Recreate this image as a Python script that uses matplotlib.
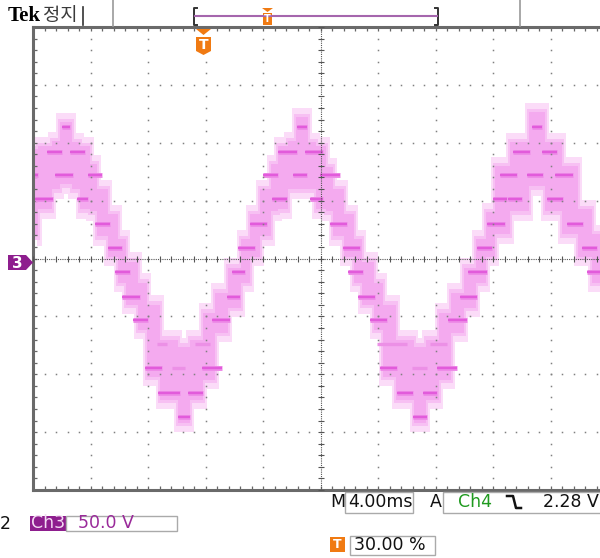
import numpy as np
import matplotlib
matplotlib.use("Agg")
import matplotlib.pyplot as plt
from matplotlib.patches import Polygon, Rectangle

# ---------------- data ----------------
time_per_div_ms = 4.0          # M 4.00ms
volts_per_div = 50.0           # Ch3 50.0 V
n_xdiv, n_ydiv = 10, 8

# pink persistence band: step boundaries (ms) and upper / lower edge (V)
band_t = [0, 0.35, 1.32, 1.88, 2.71, 3.27, 3.97, 4.45, 5.22, 5.91, 6.47, 7.30,
          7.93, 8.83, 10.09, 10.92, 11.83, 12.66, 13.57, 14.47, 15.10, 15.79,
          16.56, 17.04, 17.74, 18.30, 19.13, 19.69, 20.38, 20.87, 21.63, 22.33,
          22.89, 23.72, 24.35, 25.25, 26.50, 27.34, 28.24, 29.08, 29.98, 30.82,
          31.51, 32.14, 33.18, 34.50, 35.62, 36.80, 37.91, 38.89, 40.0]
band_hi = [94.5, 97.1, 101.4, 117.9, 100.5, 97.1, 81.5, 59.8, 38.1, 16.5, -2.6,
           -20.8, -39.9, -70.2, -76.3, -70.2, -46.8, -29.5, -7.8, 16.5, 38.1,
           59.8, 81.5, 97.1, 101.4, 122.2, 100.5, 97.1, 78.9, 59.8, 38.1, 16.5,
           -2.6, -20.8, -39.9, -70.2, -76.3, -70.2, -46.8, -29.5, -7.8, 16.5,
           39.9, 79.7, 100.5, 126.5, 100.5, 79.7, 42.5, 20.8]
band_lo = [19.1, 42.5, 59.8, 64.1, 59.8, 42.5, 40.7, 19.1, 1.7, -20.8, -39.9,
           -61.5, -102.3, -122.2, -142.1, -122.2, -104.9, -64.1, -42.5, -20.8,
           1.7, 19.1, 40.7, 42.5, 59.8, 59.8, 59.8, 42.5, 40.7, 19.1, 1.7,
           -20.8, -39.9, -61.5, -102.3, -122.2, -142.1, -122.2, -104.9, -64.1,
           -42.5, -20.8, 1.7, 20.8, 40.7, 62.4, 40.7, 20.8, 1.7, -20.8]

# bright dwell levels of the staircase (start ms, end ms, level V)
dash_t0 = [0.0, 0.14, 0.97, 1.53, 2.02, 2.57, 3.06, 3.83, 4.31, 5.22, 5.70, 6.19,
           6.96, 7.79, 8.70, 10.09, 10.78, 11.76, 12.45, 13.50, 13.84, 14.26,
           15.10, 16.00, 16.63, 17.04, 18.09, 18.37, 18.92, 19.27, 19.97, 20.66,
           21.57, 21.91, 22.61, 23.44, 24.14, 25.32, 26.43, 27.13, 28.10, 28.87,
           29.70, 30.26, 30.89, 31.58, 32.00, 32.49, 33.04, 33.39, 34.37, 34.71,
           35.41, 35.76, 36.31, 37.15, 38.19, 38.54]
dash_t1 = [0.35, 1.39, 2.02, 2.78, 2.57, 3.62, 3.83, 4.80, 5.36, 6.19, 6.75, 7.44,
           8.00, 8.97, 10.23, 10.92, 11.83, 13.15, 13.70, 14.40, 14.75, 15.44,
           16.28, 17.04, 17.67, 18.37, 19.06, 19.06, 20.17, 20.17, 21.36, 21.84,
           22.75, 22.96, 23.79, 24.63, 25.32, 26.43, 27.41, 28.10, 29.50, 30.19,
           30.89, 31.58, 31.93, 32.83, 32.97, 33.67, 34.02, 34.57, 35.48, 35.41,
           36.45, 36.87, 37.57, 38.26, 39.23, 40.0]
dash_v = [72, 51, 92, 72, 114, 92, 51, 72, 30, 9, -12, -33,
          -53, -95, -116, -137, -116, -95, -53, -33, -12, 9,
          30, 72, 51, 92, 72, 114, 92, 51, 72, 30,
          9, -12, -33, -53, -95, -116, -137, -116, -95, -53,
          -33, -12, 9, 30, 51, 72, 51, 92, 72, 114,
          92, 51, 72, 30, 9, -12]

# fainter dwell levels
faint_t0 = [8.63, 9.67, 11.27, 23.93, 26.37, 27.62]
faint_t1 = [9.32, 10.57, 12.31, 26.02, 27.41, 28.80]
faint_v = [-74, -95, -74, -74, -95, -74]

# ---------------- figure ----------------
W, H = 600, 558
fig = plt.figure(figsize=(W / 100, H / 100), dpi=100)
fig.patch.set_facecolor("white")

ax = fig.add_axes([33 / W, 68 / H, 575 / W, 463 / H])
xmax = n_xdiv * time_per_div_ms
ymax = n_ydiv / 2 * volts_per_div
ax.set_xlim(0, xmax)
ax.set_ylim(-ymax, ymax)
ax.set_facecolor("white")

# trace band (soft halo + core)
bt = np.array(band_t)
hi = np.append(band_hi, band_hi[-1])
lo = np.append(band_lo, band_lo[-1])
for sh in (-0.3, 0.3):
    ax.fill_between(bt + sh, hi + 8, lo - 8, step="post", color="#fbdcf8", lw=0, zorder=1)
for sh in (-0.15, 0.15):
    ax.fill_between(bt + sh, hi + 3, lo - 3, step="post", color="#f7c0f3", lw=0, zorder=1.1)
ax.fill_between(bt, hi, lo, step="post", color="#f4aaef", lw=0, zorder=1.2)

# dwell levels
ax.hlines(faint_v, faint_t0, faint_t1, color="#ec90e6", lw=2.4, zorder=1.5)
ax.hlines(dash_v, dash_t0, dash_t1, color="#ee8ce8", lw=3.6, zorder=1.6)
ax.hlines(dash_v, dash_t0, dash_t1, color="#e25bdb", lw=1.7, zorder=1.7)

# graticule
xd = time_per_div_ms
yd = volts_per_div
minor_x = np.arange(0, xmax + 1e-9, xd / 5)
minor_y = np.arange(-ymax, ymax + 1e-9, yd / 5)
ax.set_xticks(minor_x)
ax.set_yticks(minor_y)
ax.tick_params(which="both", direction="in", length=3.2, width=0.9, color="#666666",
               top=True, right=True, labelbottom=False, labelleft=False)
for s in ax.spines.values():
    s.set_color("#6a6a6a")
    s.set_linewidth(2.2)

dot_c = "#808080"
for k in range(1, n_xdiv):
    if k == n_xdiv // 2:
        continue
    ax.plot(np.full(len(minor_y) - 2, k * xd), minor_y[1:-1], ls="none", marker="s",
            ms=1.1, mew=0, color=dot_c, zorder=3)
for k in range(1, n_ydiv):
    if k == n_ydiv // 2:
        continue
    yv = -ymax + k * yd
    ax.plot(minor_x[1:-1], np.full(len(minor_x) - 2, yv), ls="none", marker="s",
            ms=1.1, mew=0, color=dot_c, zorder=3)

cx = xmax / 2
ax.axvline(cx, color="#555555", lw=0.8, ls=(0, (1, 1)), zorder=3)
ax.axhline(0, color="#555555", lw=0.8, ls=(0, (1, 1)), zorder=3)
ax.plot(np.full(len(minor_y), cx), minor_y, ls="none", marker="_", ms=5, mew=0.8,
        color="#555555", zorder=3)
ax.plot(minor_x, np.zeros(len(minor_x)), ls="none", marker="|", ms=5, mew=0.8,
        color="#555555", zorder=3)

# ---------------- overlay (screen annotations, pixel coords) ----------------
ov = fig.add_axes([0, 0, 1, 1], zorder=10)
ov.set_xlim(0, W)
ov.set_ylim(H, 0)
ov.axis("off")
ov.patch.set_alpha(0)

orange = "#f07a12"
purple = "#8e1e8e"
sans = ["DejaVu Sans"]

ov.text(8, 16, "Tek", fontsize=15, fontweight="bold", family=["Liberation Serif"],
        va="center", ha="left", color="black")
ov.text(43, 15, "정지", fontsize=13.5, family=["Noto Sans CJK KR", "DejaVu Sans"],
        va="center", ha="left", color="#3a3a3a")
ov.plot([83, 83], [7, 25], color="#333333", lw=1.2)
ov.plot([113, 113], [0, 26], color="#9a9a9a", lw=1.2)
ov.plot([520, 520], [0, 26], color="#9a9a9a", lw=1.2)
# record bracket
ov.plot([197, 194, 194, 197], [8, 8, 25, 25], color="#333333", lw=1.4)
ov.plot([435, 438, 438, 435], [8, 8, 25, 25], color="#333333", lw=1.4)
ov.plot([195, 437], [16, 16], color="#a566ad", lw=1.5)
# small trigger marker on record bar
ov.add_patch(Polygon([(262, 8), (273, 8), (267.5, 12)], closed=True, fc=orange, ec="none"))
ov.add_patch(Rectangle((263, 12.5), 9, 12.5, fc=orange, ec="none"))
ov.text(267.5, 19, "T", fontsize=7, fontweight="bold", color="white", ha="center", va="center")
# trigger position marker
ov.add_patch(Polygon([(196, 29), (211, 29), (203.5, 35)], closed=True, fc=orange, ec="none"))
ov.add_patch(Polygon([(196, 37), (211, 37), (211, 51), (203.5, 55), (196, 51)],
                     closed=True, fc=orange, ec="none"))
ov.text(203.5, 45, "T", fontsize=10, fontweight="bold", color="white", ha="center", va="center")

# channel 3 ground marker
ov.add_patch(Polygon([(8, 255), (26, 255), (33, 262.5), (26, 270), (8, 270)],
                     closed=True, fc=purple, ec="none"))
ov.text(17, 263, "3", fontsize=11, fontweight="bold", color="white", ha="center", va="center")

# footer
fs = 12.5
ov.text(330, 502, "M", fontsize=fs, family=sans, va="center", ha="left", color="#111111")
ov.add_patch(Rectangle((345, 492), 68, 21, fc="none", ec="#aaaaaa", lw=1))
ov.text(348, 502, "4.00ms", fontsize=fs, family=sans, va="center", ha="left", color="#111111")
ov.text(430, 502, "A", fontsize=fs, family=sans, va="center", ha="left", color="#111111")
ov.add_patch(Rectangle((443, 492), 170, 21, fc="none", ec="#aaaaaa", lw=1))
ov.text(458, 502, "Ch4", fontsize=fs, family=sans, va="center", ha="left", color="#1f9a1f")
ov.plot([507, 513, 516, 521], [496, 496, 508, 508], color="#111111", lw=1.8)
ov.text(543, 502, "2.28 V", fontsize=fs, family=sans, va="center", ha="left", color="#111111")

ov.text(0, 524, "2", fontsize=fs, family=sans, va="center", ha="left", color="#111111")
ov.add_patch(Rectangle((30, 516), 36, 15, fc=purple, ec="none"))
ov.text(31, 523.5, "Ch3", fontsize=fs, family=sans, va="center", ha="left", color="#f3dcf3")
ov.add_patch(Rectangle((66, 516), 111, 15, fc="none", ec="#aaaaaa", lw=1))
ov.text(78, 523.5, "50.0 V", fontsize=fs, family=sans, va="center", ha="left", color="#9a2a9a")

ov.add_patch(Rectangle((330, 537), 15, 15, fc=orange, ec="none"))
ov.text(337.5, 544.5, "T", fontsize=9, fontweight="bold", color="white", ha="center", va="center")
ov.add_patch(Rectangle((350, 536), 85, 19, fc="none", ec="#aaaaaa", lw=1))
ov.text(354, 545.5, "30.00 %", fontsize=fs, family=sans, va="center", ha="left", color="#111111")

fig.savefig("out.png", dpi=100, facecolor="white")
